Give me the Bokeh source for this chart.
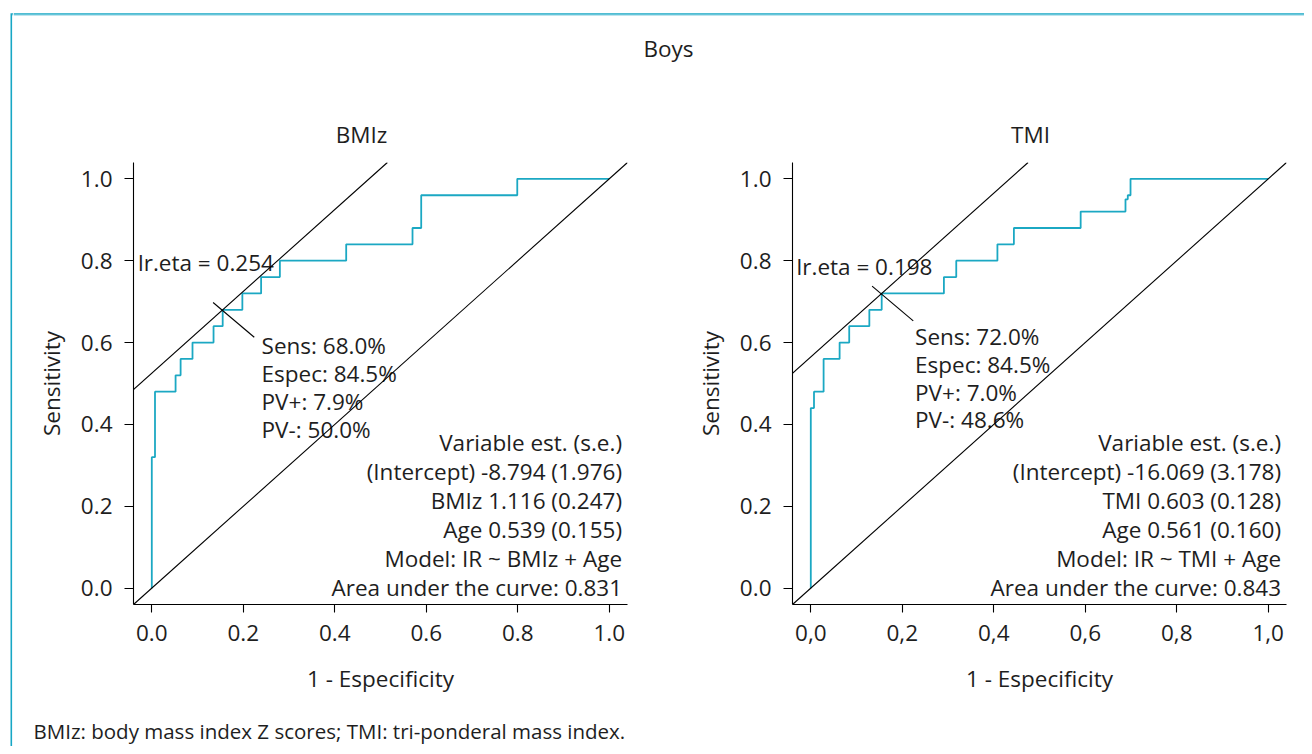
from bokeh.plotting import figure
from bokeh.models import Range1d, FixedTicker, Slope
from bokeh.layouts import row, column
from bokeh.embed import file_html
from bokeh.resources import INLINE
from bokeh.core.properties import value

FONT = "Open Sans"
FS = "22.5px"
TXT = "#1e1e1e"
CURVE = "#1ba8c3"
BORDER = "#17a7c5"
BORDER_LIGHT = "#a9dde9"

# ---------------- data ----------------
tick_values = [0.0, 0.2, 0.4, 0.6, 0.8, 1.0]
y_tick_labels = ["0.0", "0.2", "0.4", "0.6", "0.8", "1.0"]
x_tick_labels_bmiz = ["0.0", "0.2", "0.4", "0.6", "0.8", "1.0"]
x_tick_labels_tmi = ["0,0", "0,2", "0,4", "0,6", "0,8", "1,0"]

main_title = "Boys"
panel_titles = ["BMIz", "TMI"]
x_label = "1 - Especificity"
y_label = "Sensitivity"
footnote = "BMIz: body mass index Z scores; TMI: tri-ponderal mass index."

bmiz_fpr = [0.0, 0.0, 0.007, 0.052, 0.063, 0.089, 0.135, 0.155, 0.198, 0.239, 0.280, 0.425, 0.570, 0.589, 0.799, 1.0]
bmiz_sens = [0.0, 0.32, 0.48, 0.52, 0.56, 0.60, 0.64, 0.68, 0.72, 0.76, 0.80, 0.84, 0.88, 0.96, 1.0, 1.0]
bmiz_opt = (0.155, 0.68)
bmiz_lr_eta = 0.254
bmiz_stats = ["Sens: 68.0%", "Espec: 84.5%", "PV+: 7.9%", "PV-: 50.0%"]
bmiz_model = ["Variable est. (s.e.)", "(Intercept) -8.794 (1.976)", "BMIz 1.116 (0.247)",
              "Age 0.539 (0.155)", "Model: IR ~ BMIz + Age", "Area under the curve: 0.831"]

tmi_fpr = [0.0, 0.0, 0.007, 0.028, 0.063, 0.084, 0.128, 0.155, 0.291, 0.318, 0.408, 0.444, 0.590, 0.688, 0.693, 0.699, 1.0]
tmi_sens = [0.0, 0.44, 0.48, 0.56, 0.60, 0.64, 0.68, 0.72, 0.76, 0.80, 0.84, 0.88, 0.92, 0.95, 0.96, 1.0, 1.0]
tmi_opt = (0.155, 0.72)
tmi_lr_eta = 0.198
tmi_stats = ["Sens: 72.0%", "Espec: 84.5%", "PV+: 7.0%", "PV-: 48.6%"]
tmi_model = ["Variable est. (s.e.)", "(Intercept) -16.069 (3.178)", "TMI 0.603 (0.128)",
             "Age 0.561 (0.160)", "Model: IR ~ TMI + Age", "Area under the curve: 0.843"]

# ------------- layout constants -------------
PANEL_H = 542
FRAME_W = 494


def blank(width, height, xr, yr):
    p = figure(width=width, height=height, x_range=Range1d(*xr), y_range=Range1d(*yr),
               x_axis_type=None, y_axis_type=None, output_backend="svg",
               toolbar_location=None, min_border=0)
    p.outline_line_color = None
    p.background_fill_color = "white"
    p.border_fill_color = "white"
    return p


def panel(fpr, sens, opt, lr_eta, stats, stats_pos, lr_pos, model, xlabels, mbl, mbr):
    p = figure(width=mbl + FRAME_W + mbr, height=PANEL_H,
               x_range=Range1d(-0.04, 1.04), y_range=Range1d(-0.04, 1.04),
               output_backend="svg", toolbar_location=None,
               min_border_left=mbl, min_border_right=mbr,
               min_border_top=4, min_border_bottom=96)
    p.outline_line_color = None
    p.xgrid.visible = False
    p.ygrid.visible = False

    # reference diagonal and tangent line through optimal point (slope 1)
    p.add_layout(Slope(gradient=1, y_intercept=0, line_color="black", line_width=1.1))
    p.add_layout(Slope(gradient=1, y_intercept=opt[1] - opt[0], line_color="black", line_width=1.1))

    # ROC curve
    p.step(fpr, sens, mode="after", line_color=CURVE, line_width=1.8)

    # pointer at optimal point
    p.segment(x0=[opt[0] - 0.021], y0=[opt[1] + 0.018], x1=[opt[0] + 0.069], y1=[opt[1] - 0.067],
              line_color="black", line_width=1.1)

    p.text(x=[lr_pos[0]], y=[lr_pos[1]], text=[f"lr.eta = {lr_eta:.3f}"],
           text_font=value(FONT), text_font_size=value(FS), text_color=TXT,
           text_align="left", text_baseline="middle")

    sx, sy = stats_pos
    p.text(x=[sx] * len(stats), y=[sy - 0.068 * i for i in range(len(stats))], text=stats,
           text_font=value(FONT), text_font_size=value(FS), text_color=TXT,
           text_align="left", text_baseline="middle")

    p.text(x=[1.028] * len(model), y=[0.356 - 0.0709 * i for i in range(len(model))], text=model,
           text_font=value(FONT), text_font_size=value(FS), text_color=TXT,
           text_align="right", text_baseline="middle")

    p.xaxis.ticker = FixedTicker(ticks=tick_values)
    p.yaxis.ticker = FixedTicker(ticks=tick_values)
    p.xaxis.major_label_overrides = dict(zip(tick_values, xlabels))
    p.yaxis.major_label_overrides = dict(zip(tick_values, y_tick_labels))
    p.xaxis.axis_label = x_label
    p.yaxis.axis_label = y_label
    for ax in p.axis:
        ax.axis_line_color = "black"
        ax.axis_line_width = 1.1
        ax.major_tick_line_color = "black"
        ax.major_tick_line_width = 1.1
        ax.minor_tick_line_color = None
        ax.major_tick_in = 0
        ax.major_label_text_font = FONT
        ax.major_label_text_font_size = FS
        ax.major_label_text_color = TXT
        ax.axis_label_text_font = FONT
        ax.axis_label_text_font_size = FS
        ax.axis_label_text_font_style = "normal"
        ax.axis_label_text_color = TXT
    p.yaxis.major_tick_out = 9
    p.xaxis.major_tick_out = 8
    p.yaxis.major_label_standoff = 12
    p.xaxis.major_label_standoff = 12
    p.yaxis.axis_label_standoff = 11
    p.xaxis.axis_label_standoff = 19
    return p


left = panel(bmiz_fpr, bmiz_sens, bmiz_opt, bmiz_lr_eta, bmiz_stats, (0.240, 0.592), (-0.030, 0.796),
             bmiz_model, x_tick_labels_bmiz, 120, 33)
right = panel(tmi_fpr, tmi_sens, tmi_opt, tmi_lr_eta, tmi_stats, (0.228, 0.615), (-0.031, 0.785),
              tmi_model, x_tick_labels_tmi, 132, 18)

# header with frame top line and titles (screen-like coordinates)
header = blank(1291, 158, (13, 1304), (158, 0))
header.quad(left=[13], right=[1304], top=[12.7], bottom=[14.2], fill_color=BORDER, line_color=None)
header.quad(left=[13], right=[1304], top=[14.2], bottom=[15.3], fill_color=BORDER_LIGHT, line_color=None)
header.text(x=[668], y=[48], text=[main_title], text_font=value(FONT), text_font_size=value(FS),
            text_color=TXT, text_align="center", text_baseline="middle")
header.text(x=[361, 1030], y=[134, 134], text=panel_titles, text_font=value(FONT),
            text_font_size=value(FS), text_color=TXT, text_align="center", text_baseline="middle")

# left frame strip
strip = blank(13, 746, (0, 13), (746, 0))
strip.quad(left=[10], right=[11.6], top=[12.7], bottom=[746], fill_color=BORDER, line_color=None)
strip.quad(left=[11.6], right=[13], top=[12.7], bottom=[14.2], fill_color=BORDER, line_color=None)
strip.quad(left=[11.6], right=[13], top=[14.2], bottom=[15.3], fill_color=BORDER_LIGHT, line_color=None)

# footer
footer = blank(1291, 46, (13, 1304), (746, 700))
footer.text(x=[33], y=[730], text=[footnote], text_font=value(FONT), text_font_size=value("20.5px"),
            text_color=TXT, text_align="left", text_baseline="middle")

layout = row(strip, column(header, row(left, right), footer))

open("out.html", "w").write(file_html(layout, INLINE))
